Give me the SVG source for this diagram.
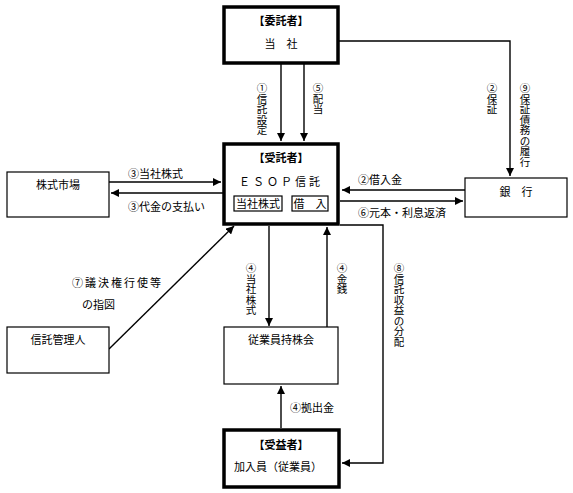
<svg xmlns="http://www.w3.org/2000/svg" width="573" height="493" viewBox="0 0 573 493">
<style>
text{font-family:"Noto Sans CJK JP","Noto Sans",sans-serif;font-size:11px;fill:#000}
.c{text-anchor:middle}
.b{font-weight:bold}
.v{text-anchor:middle;font-size:10.5px}
.thin{fill:#fff;stroke:#000;stroke-width:1.2}
.thick{fill:#fff;stroke:#000;stroke-width:3.5}
.ln{fill:none;stroke:#000;stroke-width:1.4}
</style>
<defs>
<marker id="ah" viewBox="0 0 10 10" refX="10" refY="5" markerWidth="8" markerHeight="8" markerUnits="userSpaceOnUse" orient="auto">
<path d="M0,0 L10,5 L0,10 Z" fill="#000"/>
</marker>
</defs>
<rect width="573" height="493" fill="#fff"/>

<g id="connectors">
<line class="ln" x1="281" y1="64" x2="281" y2="141" marker-end="url(#ah)"/>
<line class="ln" x1="304" y1="64" x2="304" y2="141" marker-end="url(#ah)"/>
<polyline class="ln" points="339,41 510,41 510,176" marker-end="url(#ah)"/>
<line class="ln" x1="109" y1="182" x2="221" y2="182" marker-end="url(#ah)"/>
<line class="ln" x1="223" y1="193" x2="111" y2="193" marker-end="url(#ah)"/>
<line class="ln" x1="465" y1="190" x2="342" y2="190" marker-end="url(#ah)"/>
<line class="ln" x1="340" y1="201" x2="463" y2="201" marker-end="url(#ah)"/>
<line class="ln" x1="109" y1="349" x2="234" y2="226" marker-end="url(#ah)"/>
<line class="ln" x1="269" y1="226" x2="269" y2="326" marker-end="url(#ah)"/>
<line class="ln" x1="327" y1="327" x2="327" y2="227" marker-end="url(#ah)"/>
<polyline class="ln" points="340,225 383,225 383,463 342,463" marker-end="url(#ah)"/>
<line class="ln" x1="281" y1="428" x2="281" y2="386" marker-end="url(#ah)"/>

<text class="v"><tspan x="262" y="92">①</tspan><tspan x="262" dy="10.5">信</tspan><tspan x="262" dy="10.5">託</tspan><tspan x="262" dy="10.5">設</tspan><tspan x="262" dy="10.5">定</tspan></text>
<text class="v"><tspan x="318" y="92">⑤</tspan><tspan x="318" dy="10.5">配</tspan><tspan x="318" dy="10.5">当</tspan></text>
<text class="v"><tspan x="492" y="92">②</tspan><tspan x="492" dy="10.5">保</tspan><tspan x="492" dy="10.5">証</tspan></text>
<text class="v"><tspan x="525" y="92">⑨</tspan><tspan x="525" dy="10.5">保</tspan><tspan x="525" dy="10.5">証</tspan><tspan x="525" dy="10.5">債</tspan><tspan x="525" dy="10.5">務</tspan><tspan x="525" dy="10.5">の</tspan><tspan x="525" dy="10.5">履</tspan><tspan x="525" dy="10.5">行</tspan></text>
<text x="128" y="178">③当社株式</text>
<text x="128" y="211">③代金の支払い</text>
<text x="358" y="184">②借入金</text>
<text x="358" y="217">⑥元本・利息返済</text>
<text x="72" y="287" letter-spacing="2">⑦議決権行使等</text>
<text x="82" y="309">の指図</text>
<text class="v"><tspan x="251" y="272">④</tspan><tspan x="251" dy="10.5">当</tspan><tspan x="251" dy="10.5">社</tspan><tspan x="251" dy="10.5">株</tspan><tspan x="251" dy="10.5">式</tspan></text>
<text class="v"><tspan x="342" y="272">④</tspan><tspan x="342" dy="10.5">金</tspan><tspan x="342" dy="10.5">銭</tspan></text>
<text class="v"><tspan x="399" y="272">⑧</tspan><tspan x="399" dy="10.5">信</tspan><tspan x="399" dy="10.5">託</tspan><tspan x="399" dy="10.5">収</tspan><tspan x="399" dy="10.5">益</tspan><tspan x="399" dy="10.5">の</tspan><tspan x="399" dy="10.5">分</tspan><tspan x="399" dy="10.5">配</tspan></text>
<text x="290" y="412">④拠出金</text>
</g>

<g id="itakusha">
<rect class="thick" x="224" y="7" width="114" height="56"/>
<text class="c b" x="281" y="25">【委託者】</text>
<text class="c" x="281" y="48" xml:space="preserve">当　社</text>
</g>

<g id="jutakusha">
<rect class="thick" x="224" y="144" width="114" height="80"/>
<text class="c b" x="281" y="162">【受託者】</text>
<text class="c" x="281" y="186" letter-spacing="3">ＥＳＯＰ信託</text>
<rect class="thin" x="234" y="196" width="48" height="15"/>
<text class="c" x="258" y="208">当社株式</text>
<rect class="thin" x="292" y="196" width="36" height="15"/>
<text class="c" x="310" y="208" xml:space="preserve">借　入</text>
</g>

<g id="market">
<rect class="thin" x="7" y="172" width="102" height="45"/>
<text class="c" x="58" y="189">株式市場</text>
</g>

<g id="bank">
<rect class="thin" x="465" y="178" width="102" height="39"/>
<text class="c" x="516" y="196" xml:space="preserve">銀　行</text>
</g>

<g id="kanrinin">
<rect class="thin" x="7" y="327" width="102" height="46"/>
<text class="c" x="58" y="344">信託管理人</text>
</g>

<g id="mochikabukai">
<rect class="thin" x="224" y="327" width="114" height="57"/>
<text class="c" x="281" y="344">従業員持株会</text>
</g>

<g id="jueki">
<rect class="thick" x="224" y="430" width="115" height="57"/>
<text class="c b" x="281" y="449">【受益者】</text>
<text class="c" x="278" y="471">加入員（従業員）</text>
</g>
</svg>
